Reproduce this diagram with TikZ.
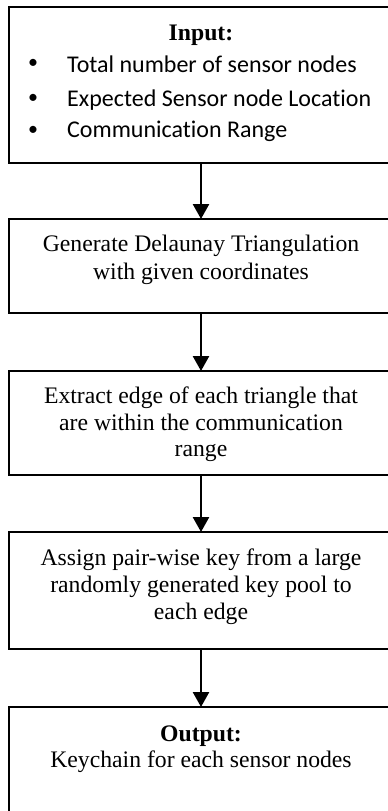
\documentclass[tikz,border=0pt]{standalone}
\usepackage{fontspec}
\setmainfont{Liberation Serif}
\newfontfamily\calibrifont[Ligatures={NoCommon}]{Carlito}
\usetikzlibrary{arrows.meta}
\tikzset{
  x=1pt, y=1pt,
  box/.style={draw=black, line width=2pt, minimum width=384pt, outer sep=0pt, inner sep=0pt},
  arr/.style={draw=black, line width=2.6pt, -{Triangle[width=16pt,length=15pt]}},
  tline/.style={anchor=base, inner sep=0pt, font=\fontsize{23.7}{27}\selectfont},
  tbold/.style={tline, font=\fontsize{23.7}{27}\selectfont\bfseries},
  bline/.style={anchor=base west, inner sep=0pt, font=\calibrifont\fontsize{24}{33}\selectfont},
  bullet/.style={anchor=center, inner sep=0pt, font=\calibrifont\fontsize{20}{33}\selectfont},
}
\begin{document}
\begin{tikzpicture}
\clip (0,0) rectangle (388,-811);
% boxes
\node[box, minimum height=156pt] (b1) at (201,-85) {};
\node[box, minimum height=94pt] (b2) at (201,-266) {};
\node[box, minimum height=104pt] (b3) at (201,-423) {};
\node[box, minimum height=117pt] (b4) at (201,-590.5) {};
\node[box, minimum height=140pt] (b5) at (201,-777) {};
% box 1 text
\node[tbold] (in) at (201,-40.5) {Input:};
\node[bullet] (p1) at (33,-63.5) {•};
\node[bullet] (p2) at (33,-98.5) {•};
\node[bullet] (p3) at (33,-131) {•};
\node[bline] (i1) at (67,-72.3) {Total number of sensor nodes};
\node[bline] (i2) at (67,-106) {Expected Sensor node Location};
\node[bline] (i3) at (67,-137.7) {Communication Range};
% box 2 text
\node[tline] (g1) at (201,-251.7) {Generate Delaunay Triangulation};
\node[tline] (g2) at (201,-279) {with given coordinates};
% box 3 text
\node[tline] (e1) at (201,-403) {Extract edge of each triangle that};
\node[tline] (e2) at (201,-430) {are within the communication};
\node[tline] (e3) at (201,-456.5) {range};
% box 4 text
\node[tline] (a1) at (201,-565) {Assign pair-wise key from a large};
\node[tline] (a2) at (201,-592) {randomly generated key pool to};
\node[tline] (a3) at (201,-619) {each edge};
% box 5 text
\node[tbold] (out) at (201,-741) {Output:};
\node[tline] (k1) at (201,-767) {Keychain for each sensor nodes};
% arrows
\draw[arr] (b1.south) -- (b2.north);
\draw[arr] (b2.south) -- (b3.north);
\draw[arr] (b3.south) -- (b4.north);
\draw[arr] (b4.south) -- (b5.north);
\end{tikzpicture}
\end{document}
